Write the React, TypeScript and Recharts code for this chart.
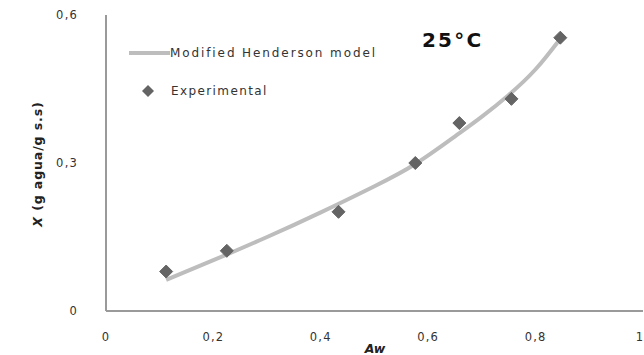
import React from "react";
import {
  ComposedChart,
  Line,
  Scatter,
  XAxis,
  YAxis,
} from "recharts";

// Experimental sorption points at 25 °C
const expAw = [0.112, 0.225, 0.433, 0.576, 0.658, 0.755, 0.846];
const expX = [0.08, 0.122, 0.201, 0.3, 0.381, 0.43, 0.554];

// Modified Henderson model curve
const modelAw = [0.112, 0.2, 0.3, 0.4, 0.5, 0.576, 0.65, 0.7, 0.75, 0.8, 0.846];
const modelX = [0.063, 0.103, 0.15, 0.2, 0.253, 0.298, 0.354, 0.394, 0.438, 0.49, 0.552];

const xTicks = [0, 0.2, 0.4, 0.6, 0.8, 1];
const yTicks = [0, 0.3, 0.6];

const experimental = expAw.map((aw, i) => ({ aw, x: expX[i] }));
const model = modelAw.map((aw, i) => ({ aw, x: modelX[i] }));

const fmt = (v: number) => String(v).replace(".", ",");

const TICK_FONT = "'DejaVu Sans', sans-serif";
const TEXT_COLOR = "#333";
const AXIS_COLOR = "#9a9a9a";
const LINE_COLOR = "#bdbdbd";
const MARK_COLOR = "#646464";

const Diamond = (props: any) => {
  const { cx, cy } = props;
  if (cx == null || cy == null) return null;
  const r = 6.5;
  return (
    <path
      d={`M${cx},${cy - r} L${cx + r},${cy} L${cx},${cy + r} L${cx - r},${cy} Z`}
      fill={MARK_COLOR}
      strokeLinejoin="round"
      stroke={MARK_COLOR}
      strokeWidth={1}
    />
  );
};

const XTick = (props: any) => {
  const { x, y, payload } = props;
  return (
    <text
      x={x}
      y={y + 18}
      textAnchor="middle"
      dominantBaseline="central"
      fontFamily={TICK_FONT}
      fontSize={11.5}
      letterSpacing={1.2}
      fill={TEXT_COLOR}
    >
      {fmt(payload.value)}
    </text>
  );
};

const YTick = (props: any) => {
  const { x, y, payload } = props;
  return (
    <text
      x={x - 20}
      y={y}
      textAnchor="end"
      dominantBaseline="central"
      fontFamily={TICK_FONT}
      fontSize={11.5}
      letterSpacing={1.2}
      fill={TEXT_COLOR}
    >
      {fmt(payload.value)}
    </text>
  );
};

const YLabel = (props: any) => {
  const { viewBox } = props;
  const cx = viewBox.x + 37;
  const cy = viewBox.y + viewBox.height / 2 + 1;
  return (
    <text
      x={cx}
      y={cy}
      transform={`rotate(-90 ${cx} ${cy})`}
      textAnchor="middle"
      dominantBaseline="central"
      fontFamily={TICK_FONT}
      fontSize={12.5}
      fontWeight="bold"
      letterSpacing={0.9}
      fill="#222"
    >
      <tspan fontStyle="italic">X</tspan>
      <tspan> (g agua/g s.s)</tspan>
    </text>
  );
};

const XLabel = (props: any) => {
  const { viewBox } = props;
  return (
    <text
      x={375}
      y={viewBox.y + 37}
      textAnchor="middle"
      dominantBaseline="central"
      fontFamily={TICK_FONT}
      fontSize={12.5}
      fontWeight="bold"
      fontStyle="italic"
      fill="#222"
    >
      Aw
    </text>
  );
};

const LegendBox = () => (
  <div
    style={{
      position: "absolute",
      left: 129,
      top: 43,
      fontFamily: TICK_FONT,
      fontSize: 12,
      color: TEXT_COLOR,
      letterSpacing: 1.9,
    }}
  >
    <div style={{ display: "flex", alignItems: "center", height: 20 }}>
      <svg width={41} height={20}>
        <line x1={0} y1={10} x2={41} y2={10} stroke={LINE_COLOR} strokeWidth={4} />
      </svg>
      <span>Modified Henderson model</span>
    </div>
    <div style={{ display: "flex", alignItems: "center", height: 20, marginTop: 18, letterSpacing: 1.4 }}>
      <svg width={42} height={20}>
        <path d="M19,4 L25,10 L19,16 L13,10 Z" fill={MARK_COLOR} />
      </svg>
      <span>Experimental</span>
    </div>
  </div>
);

export default function App() {
  return (
    <div style={{ position: "absolute", left: 0, top: 0, width: 644, height: 355, background: "#fff" }}>
      <ComposedChart
        width={644}
        height={355}
        margin={{ top: 15, right: 1, bottom: 13, left: 0 }}
      >
        <XAxis
          type="number"
          dataKey="aw"
          domain={[0, 1]}
          ticks={xTicks}
          tickLine={false}
          axisLine={{ stroke: AXIS_COLOR, strokeWidth: 2 }}
          tick={<XTick />}
          height={31}
          allowDataOverflow
          label={<XLabel />}
        />
        <YAxis
          type="number"
          dataKey="x"
          domain={[0, 0.6]}
          ticks={yTicks}
          tickLine={false}
          axisLine={{ stroke: AXIS_COLOR, strokeWidth: 2 }}
          tick={<YTick />}
          width={106}
          label={<YLabel />}
        />
        <Line
          data={model}
          dataKey="x"
          type="natural"
          stroke={LINE_COLOR}
          strokeWidth={4}
          dot={false}
          activeDot={false}
          isAnimationActive={false}
          name="Modified Henderson model"
        />
        <Scatter
          data={experimental}
          dataKey="x"
          shape={<Diamond />}
          isAnimationActive={false}
          name="Experimental"
        />
      </ComposedChart>
      <LegendBox />
      <div
        style={{
          position: "absolute",
          left: 422,
          top: 28,
          fontFamily: TICK_FONT,
          fontWeight: 700,
          fontSize: 20,
          letterSpacing: 2.2,
          color: "#111",
          lineHeight: "24px",
        }}
      >
        25°C
      </div>
    </div>
  );
}
